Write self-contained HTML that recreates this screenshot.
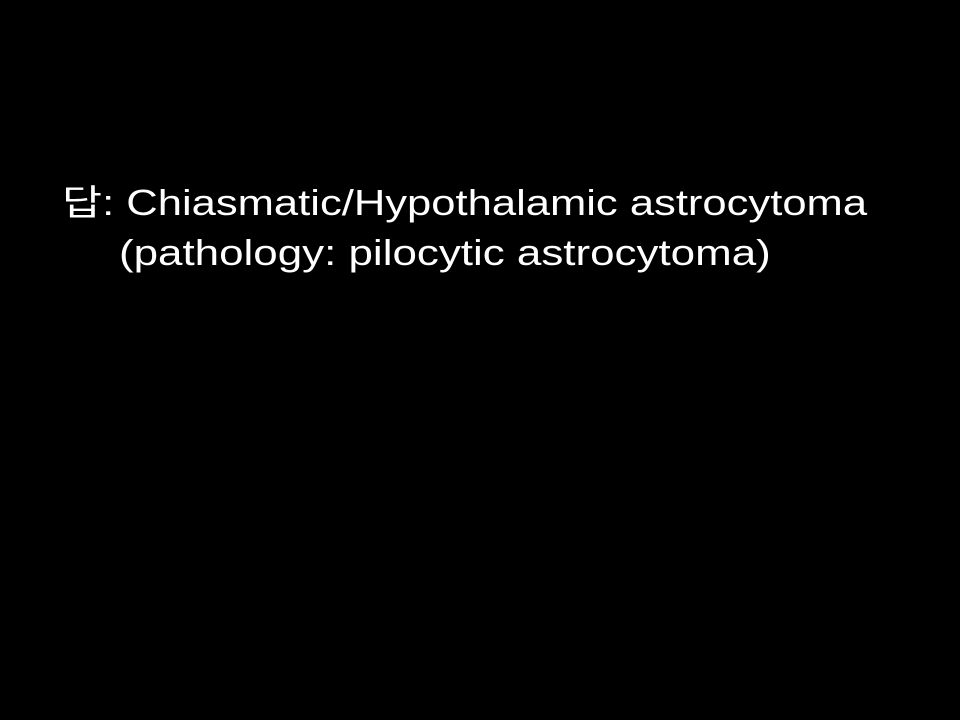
<!DOCTYPE html>
<html>
<head>
<meta charset="utf-8">
<style>
  html, body { margin: 0; padding: 0; }
  body { width: 960px; height: 720px; background: #000; position: relative; overflow: hidden; }
  .line { position: absolute; color: #fff; font-family: "Liberation Sans", "Noto Sans CJK KR", "NanumGothic", sans-serif; font-size: 36px; line-height: 36px; white-space: nowrap; transform-origin: left top; }
</style>
</head>
<body>
  <div class="line" style="left:62px; top:185px; transform:scaleX(1.21);">답: Chiasmatic/Hypothalamic astrocytoma</div>
  <div class="line" style="left:119px; top:235px; transform:scaleX(1.22);">(pathology: pilocytic astrocytoma)</div>
</body>
</html>
